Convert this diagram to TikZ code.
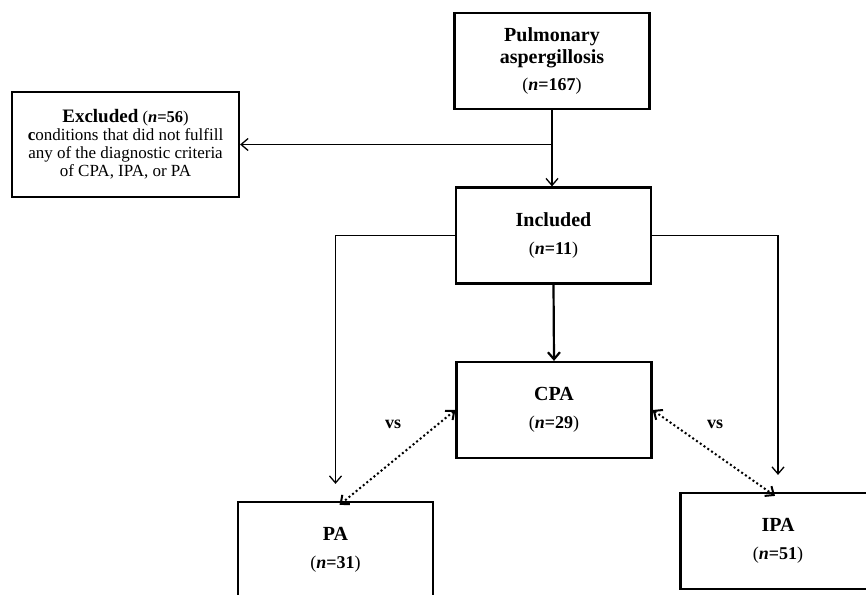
\documentclass[tikz,border=0pt]{standalone}
\usepackage{fontspec}
\setmainfont{Liberation Serif}
\usepackage{tikz}
\usetikzlibrary{arrows.meta}
\usetikzlibrary{positioning}
\newcommand{\mTitle}[1]{{\fontsize{20}{22}\selectfont\bfseries #1}}
\newcommand{\mN}[1]{{\fontsize{18}{20}\selectfont(\textbf{\textit{n}=#1})}}
\tikzset{
  flowbox/.style={draw, line width=2.2pt, minimum width=195pt, minimum height=96pt,
    align=center, inner sep=0pt, font=\fontsize{17}{18}\selectfont},
  link/.style={line width=1.3pt, -{Straight Barb[length=7pt,width=12pt]}},
  vslink/.style={line width=2pt, dash pattern=on 2pt off 2.6pt,
    {Straight Barb[length=7pt,width=12pt]}-{Straight Barb[length=7pt,width=12pt]}}
}

\begin{document}
\begin{tikzpicture}[x=1pt,y=-1pt]
    \clip (0,0) rectangle (866,594);
    \node[flowbox] (pul) at (552,61) {\mTitle{Pulmonary}\\[2pt] \mTitle{aspergillosis}\\[9pt] \mN{167}};
    \node[flowbox, minimum width=227pt, minimum height=105pt] (exc) at (125.5,144.5)
      {{\fontsize{19}{21}\selectfont\bfseries Excluded} {\fontsize{16.5}{18}\selectfont(\textbf{\textit{n}=56})}\\
       \textbf{c}onditions that did not fulfill\\ any of the diagnostic criteria\\ of CPA, IPA, or PA};
    \node[flowbox] (inc) at (553.5,235.5) {\mTitle{Included}\\[10pt] \mN{11}};
    \node[flowbox] (cpa) at (554,410) {\mTitle{CPA}\\[10pt] \mN{29}};
    \node[flowbox] (pa) at (335.5,550) {\mTitle{PA}\\[10pt] \mN{31}};
    \node[flowbox] (ipa) at (778,541) {\mTitle{IPA}\\[10pt] \mN{51}};
    % lines between boxes
    \coordinate (br) at (pul.south |- exc.east);
    \draw[link] (pul.south) -- (pul.south |- inc.north);
    \draw[link] (br) -- (exc.east);
    \draw[link, shorten >=17pt] (inc.west) -| (pa.north);
    \draw[link, shorten >=17pt] (inc.east) -| (ipa.north);
    \draw[link, line width=2.2pt] (inc.south) -- (cpa.north);
    \draw[vslink] (cpa.west) -- ([xshift=4pt,yshift=-4pt]pa.north);
    \draw[vslink] (cpa.east) -- ([xshift=-3pt,yshift=-4pt]ipa.north);
    \node[font=\fontsize{18}{20}\selectfont\bfseries] (vsl) at (393,424) {vs};
    \node[font=\fontsize{18}{20}\selectfont\bfseries] (vsr) at (715,424) {vs};
\end{tikzpicture}
\end{document}
